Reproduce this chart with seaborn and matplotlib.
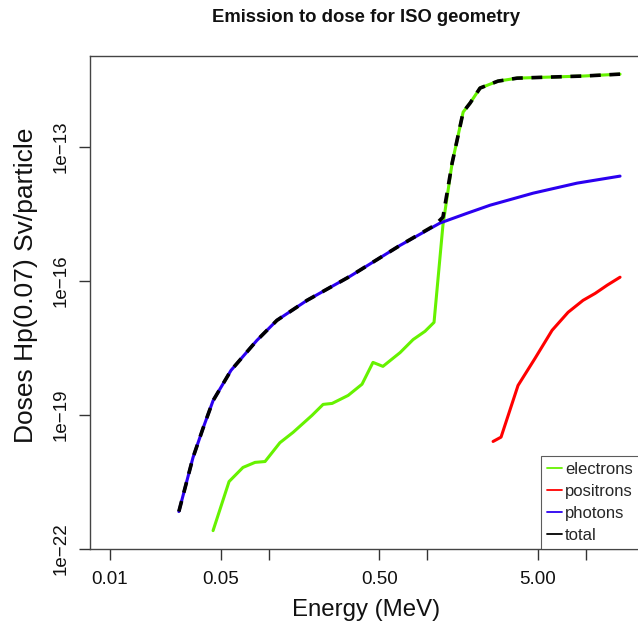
import matplotlib
matplotlib.use('Agg')
import matplotlib.pyplot as plt
from matplotlib.lines import Line2D
from matplotlib.ticker import NullLocator
import pandas as pd
import seaborn as sns

# values (log-log); energy in MeV, dose in Sv/particle
photon_energy = [0.0272, 0.0334, 0.0386, 0.0447, 0.058, 0.0845, 0.113, 0.175,
                 0.327, 0.676, 1.21, 1.79, 2.50, 4.67, 8.84, 16.5]
photon_dose = [6.9e-22, 1.12e-20, 5.0e-20, 2.1e-19, 1.0e-18, 4.7e-18, 1.32e-17, 3.7e-17,
               1.28e-16, 6.3e-16, 2.0e-15, 3.3e-15, 5.0e-15, 9.3e-15, 1.56e-14, 2.24e-14]

electron_energy = [0.0447, 0.0564, 0.069, 0.0822, 0.0951, 0.118, 0.143, 0.188, 0.221,
                   0.252, 0.318, 0.389, 0.456, 0.527, 0.676, 0.817, 0.971, 1.107, 1.26,
                   1.44, 1.69, 1.87, 2.16, 2.80, 3.70, 5.97, 9.64, 16.5]
electron_dose = [2.58e-22, 3.24e-21, 6.7e-21, 8.7e-21, 9.1e-21, 2.4e-20, 4.1e-20, 9.8e-20, 1.73e-19,
                 1.82e-19, 2.75e-19, 4.9e-19, 1.51e-18, 1.23e-18, 2.5e-18, 4.9e-18, 7.5e-18, 1.19e-17, 1.8e-15,
                 4.4e-14, 6.1e-13, 9.7e-13, 2.1e-12, 3.0e-12, 3.5e-12, 3.7e-12, 3.9e-12, 4.3e-12]

positron_energy = [2.61, 2.93, 3.75, 4.80, 6.15, 7.76, 9.64, 11.5, 13.7, 16.5]
positron_dose = [2.56e-20, 3.2e-20, 4.6e-19, 1.86e-18, 7.9e-18, 2.0e-17, 3.7e-17, 5.3e-17, 8.1e-17, 1.22e-16]

total_energy = [0.0272, 0.0334, 0.0386, 0.0447, 0.058, 0.0845, 0.113, 0.175, 0.327, 0.676,
                1.12, 1.26, 1.44, 1.69, 1.87, 2.16, 2.80, 3.70, 5.97, 9.64, 16.5]
total_dose = [6.9e-22, 1.12e-20, 5.0e-20, 2.1e-19, 1.0e-18, 4.7e-18, 1.32e-17, 3.7e-17, 1.28e-16, 6.3e-16,
              1.78e-15, 2.7e-15, 4.4e-14, 6.1e-13, 9.7e-13, 2.1e-12, 3.0e-12, 3.5e-12, 3.7e-12, 3.9e-12, 4.3e-12]

series_names = ['electrons', 'positrons', 'photons', 'total']
series_colors = ['#66f200', '#ff0000', '#2b00f0', '#000000']

xtick_values = [0.01, 0.05, 0.1, 0.5, 1, 5, 10]
xtick_labels = ['0.01', '0.05', '', '0.50', '', '5.00', '']
ytick_values = [1e-22, 1e-19, 1e-16, 1e-13]
ytick_labels = ['1e\u221222', '1e\u221219', '1e\u221216', '1e\u221213']

sns.set_theme(style='white')
plt.rcParams['font.family'] = ['Liberation Sans', 'DejaVu Sans']

fig = plt.figure(figsize=(6.38, 6.25), dpi=100)
ax = fig.add_axes([90 / 638, 1 - 549 / 625, 552 / 638, 493 / 625])

curves = [
    (electron_energy, electron_dose),
    (positron_energy, positron_dose),
    (photon_energy, photon_dose),
    (total_energy, total_dose),
]
for name, color, (xs, ys) in zip(series_names, series_colors, curves):
    df = pd.DataFrame({'Energy': xs, 'Dose': ys})
    if name == 'total':
        sns.lineplot(data=df, x='Energy', y='Dose', color=color, linewidth=2.6,
                     linestyle=(0, (3, 2.4)), sort=False, ax=ax)
    else:
        sns.lineplot(data=df, x='Energy', y='Dose', color=color, linewidth=2.2,
                     sort=False, ax=ax)

ax.set_xscale('log')
ax.set_yscale('log')
ax.set_xlim(10 ** -2.126, 10 ** 1.356)
ax.set_ylim(10 ** -21.99, 10 ** -10.96)

ax.set_xticks(xtick_values)
ax.set_xticklabels(xtick_labels)
ax.set_yticks(ytick_values)
ax.set_yticklabels(ytick_labels, rotation=90, va='center')
ax.xaxis.set_minor_locator(NullLocator())
ax.yaxis.set_minor_locator(NullLocator())
ax.tick_params(axis='both', which='major', direction='out', length=8, width=1,
               color='#333333', labelsize=13.5, labelcolor='#111111',
               bottom=True, left=True)
ax.tick_params(axis='x', pad=8)
ax.tick_params(axis='y', pad=7)
ax.grid(False)

for spine in ax.spines.values():
    spine.set_color('#444444')
    spine.set_linewidth(1)

ax.set_xlabel('Energy (MeV)', fontsize=17.3, color='#111111')
ax.set_ylabel('Doses Hp(0.07) Sv/particle', fontsize=19, color='#111111')
ax.xaxis.label.set_va('center')
ax.xaxis.set_label_coords(0.5, (549 - 610) / 493)
ax.yaxis.label.set_va('center')
ax.yaxis.set_label_coords((26 - 90) / 552, (549 - 285) / 493)

fig.text(366 / 638, 1 - 18 / 625, 'Emission to dose for ISO geometry',
         ha='center', va='center', fontsize=13.3, fontweight='bold', color='#111111')

handles = [Line2D([0], [0], color=c, linewidth=1.3) for c in series_colors]
leg = ax.legend(handles, series_names, loc='lower left',
                bbox_to_anchor=(541 / 638, 1 - 549 / 625), bbox_transform=fig.transFigure,
                borderaxespad=0, fontsize=12.0, frameon=True, fancybox=False,
                edgecolor='#333333', handlelength=0.9, handletextpad=0.2,
                labelspacing=0.42, borderpad=0.35)
leg.get_frame().set_linewidth(0.8)

fig.savefig('out.png', dpi=100)
